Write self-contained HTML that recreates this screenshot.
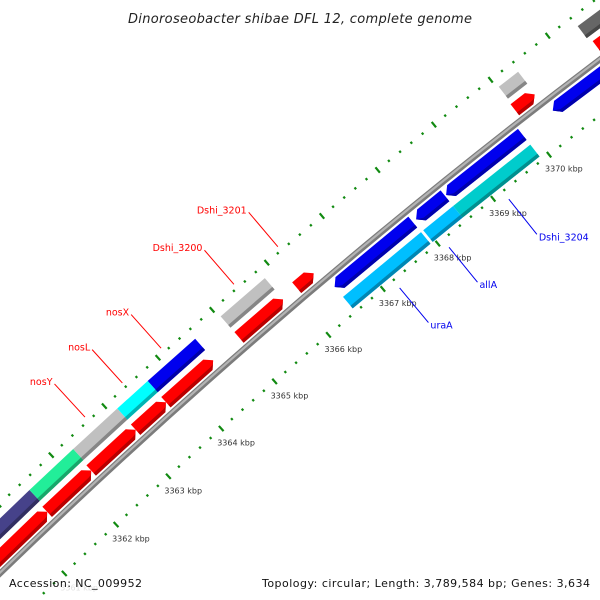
<!DOCTYPE html>
<html><head><meta charset="utf-8"><style>
html,body{margin:0;padding:0;background:#fff;overflow:hidden;width:600px;height:600px;}
svg{display:block;overflow:hidden;}
</style></head><body>
<svg id="map" width="600" height="600" viewBox="0 0 600 600" xmlns="http://www.w3.org/2000/svg">
<rect x="0" y="0" width="600" height="600" fill="#fff"/>
<g id="ticks"></g>
<g id="backbone"></g>
<g id="features"></g>
<g id="labels"></g>
<text x="128" y="23" textLength="344" font-family="DejaVu Sans, Liberation Sans, sans-serif" font-style="italic" font-size="13" fill="#222">Dinoroseobacter shibae DFL 12, complete genome</text>
<text x="9" y="587" textLength="133" font-family="DejaVu Sans, Liberation Sans, sans-serif" font-size="11" fill="#111">Accession: NC_009952</text>
<text x="262" y="587" textLength="328" font-family="DejaVu Sans, Liberation Sans, sans-serif" font-size="11" fill="#111">Topology: circular; Length: 3,789,584 bp; Genes: 3,634</text>
</svg>
<script>
// ---- data (kbp) ----
const blockStart = [3359.5, 3361.45, 3362.28, 3363.11, 3363.68, 3365.03, 3370.03, 3371.41, 3366.50, 3367.96, 3368.50];
const blockEnd   = [3361.45, 3362.28, 3363.11, 3363.68, 3364.56, 3365.84, 3370.37, 3372.8, 3367.92, 3368.50, 3369.88];
const blockStrand = [1, 1, 1, 1, 1, 1, 1, 1, -1, -1, -1];
const blockColor = ["#46428a", "#22ee99", "#c0c0c0", "#00ffff", "#0000ee", "#c0c0c0", "#c0c0c0", "#666666", "#00bfff", "#00bfff", "#00cccc"];
const arrowStart = [3359.6, 3361.42, 3362.26, 3363.10, 3363.67, 3365.03, 3366.09, 3370.01, 3371.45, 3366.50, 3367.98, 3368.52, 3370.42];
const arrowEnd   = [3361.42, 3362.26, 3363.10, 3363.67, 3364.55, 3365.84, 3366.40, 3370.36, 3373.0, 3367.92, 3368.50, 3369.88, 3372.5];
const arrowStrand = [1, 1, 1, 1, 1, 1, 1, 1, 1, -1, -1, -1, -1];
const labelNames = ["Dshi_3201", "Dshi_3200", "nosX", "nosL", "nosY", "uraA", "allA", "Dshi_3204"];
const labelPos = [3366.26, 3365.46, 3364.12, 3363.40, 3362.70, 3367.19, 3368.09, 3369.17];
const labelStrand = [1, 1, 1, 1, 1, -1, -1, -1];
const tickMajor = [3358, 3359, 3360, 3361, 3362, 3363, 3364, 3365, 3366, 3367, 3368, 3369, 3370, 3371, 3372, 3373];
const tickLabels = ["3358 kbp", "3359 kbp", "3360 kbp", "3361 kbp", "3362 kbp", "3363 kbp", "3364 kbp", "3365 kbp", "3366 kbp", "3367 kbp", "3368 kbp", "3369 kbp", "3370 kbp", "3371 kbp", "3372 kbp", "3373 kbp"];

// ---- geometry ----
const NS = "http://www.w3.org/2000/svg";
const CX = 4521, CY = 5243, R0 = 6499.5;
const K0 = 3363, A0 = -132.40, DEG_PER_KBP = 0.632;
function ang(k) { return (A0 + DEG_PER_KBP * (k - K0)) * Math.PI / 180; }
function P(k, r) { const a = ang(k); return [CX + r * Math.cos(a), CY + r * Math.sin(a)]; }
function pts(arr) { return arr.map(p => p[0].toFixed(2) + "," + p[1].toFixed(2)).join(" "); }
function kOff(px, r) { return px / (r * Math.PI / 180 * DEG_PER_KBP); }
function darker(c, f) {
  const n = parseInt(c.slice(1), 16);
  const r = Math.round(((n >> 16) & 255) * f), g = Math.round(((n >> 8) & 255) * f), b = Math.round((n & 255) * f);
  return "rgb(" + r + "," + g + "," + b + ")";
}
function mk(tag, attrs, parent) {
  const el = document.createElementNS(NS, tag);
  for (const k in attrs) el.setAttribute(k, attrs[k]);
  parent.appendChild(el);
  return el;
}

// backbone
const bb = document.getElementById("backbone");
let c1 = mk("circle", {cx: CX, cy: CY, r: R0, fill: "none", stroke: "#7c7c7c", "stroke-width": 6}, bb);


let c2 = mk("circle", {cx: CX, cy: CY, r: R0 + 0.7, fill: "none", stroke: "#b4b4b4", "stroke-width": 2.2}, bb);



// ticks
const tg = document.getElementById("ticks");
const ringR = [6455, 6550];
for (let ri = 0; ri < ringR.length; ri++) {
  const rr = ringR[ri];
  for (let m = 0; m < tickMajor.length; m++) {
    for (let s = 0; s < 5; s++) {
      const k = tickMajor[m] + s * 0.2;
      const len = s === 0 ? 3.5 : 1.2;
      const a = P(k, rr - len), b = P(k, rr + len);
      const ln = mk("line", {x1: a[0], y1: a[1], x2: b[0], y2: b[1], stroke: "#118a11", "stroke-width": 2.2}, tg);
      
      
    }
    if (ri === 0) {
      const p = P(tickMajor[m], rr);
      const t = mk("text", {x: p[0] - 4, y: p[1] + 17, "font-family": "DejaVu Sans, Liberation Sans, sans-serif", "font-size": 8, fill: "#333"}, tg);
      if (p[1] > 555) t.setAttribute("fill-opacity", "0.15");
      t.textContent = tickLabels[m];
      
      
    }
  }
}

// features
const fg = document.getElementById("features");
for (let i = 0; i < blockStart.length; i++) {
  const rc = R0 + blockStrand[i] * 32.5;
  const ro = rc + 7.5, ri = rc - 7.5;
  const s = blockStart[i], e = blockEnd[i];
  const poly = mk("polygon", {points: pts([P(s, ro), P(e, ro), P(e, ri), P(s, ri)]), fill: blockColor[i]}, fg);
  
  
  const band = mk("polygon", {points: pts([P(s, ri + 3.5), P(e, ri + 3.5), P(e, ri), P(s, ri)]), fill: darker(blockColor[i], 0.7)}, fg);
  
  
}
for (let i = 0; i < arrowStart.length; i++) {
  const st = arrowStrand[i];
  const rc = R0 + st * 12;
  const ro = rc + 7, ri = rc - 7;
  const s = arrowStart[i], e = arrowEnd[i];
  const col = st > 0 ? "#ff0000" : "#0000ee";
  const h = kOff(7, rc);
  let shape, shade;
  if (st > 0) {
    const eh = Math.max(s, e - h);
    shape = [P(s, ro), P(eh, ro), P(e, rc), P(eh, ri), P(s, ri)];
    shade = [P(s, ri + 3.5), P(eh, ri + 3.5), P(e - h / 2, rc - 3), P(e, rc), P(eh, ri), P(s, ri)];
  } else {
    const sh = Math.min(e, s + h);
    shape = [P(s, rc), P(sh, ro), P(e, ro), P(e, ri), P(sh, ri)];
    shade = [P(s, rc), P(sh, ri + 3.5), P(e, ri + 3.5), P(e, ri), P(sh, ri)];
  }
  const poly = mk("polygon", {points: pts(shape), fill: col}, fg);
  
  
  const sp = mk("polygon", {points: pts(shade), fill: darker(col, 0.72)}, fg);
  
  
}

// labels
const lg = document.getElementById("labels");
for (let i = 0; i < labelNames.length; i++) {
  const st = labelStrand[i];
  const col = st > 0 ? "#ff0000" : "#0000ee";
  const a = P(labelPos[i], st > 0 ? 6555 : 6445);
  const b = P(labelPos[i], st > 0 ? 6600 : 6400);
  const ln = mk("line", {x1: a[0], y1: a[1], x2: b[0], y2: b[1], stroke: col, "stroke-width": 1}, lg);
  
  
  const t = mk("text", st > 0
    ? {x: b[0] - 2, y: b[1] + 1, "text-anchor": "end"}
    : {x: b[0] + 2, y: b[1] + 6, "text-anchor": "start"}, lg);
  t.setAttribute("font-family", "DejaVu Sans, Liberation Sans, sans-serif");
  t.setAttribute("font-size", "9.5");
  t.setAttribute("fill", col);
  t.textContent = labelNames[i];
  
  
}
</script>
</body></html>
